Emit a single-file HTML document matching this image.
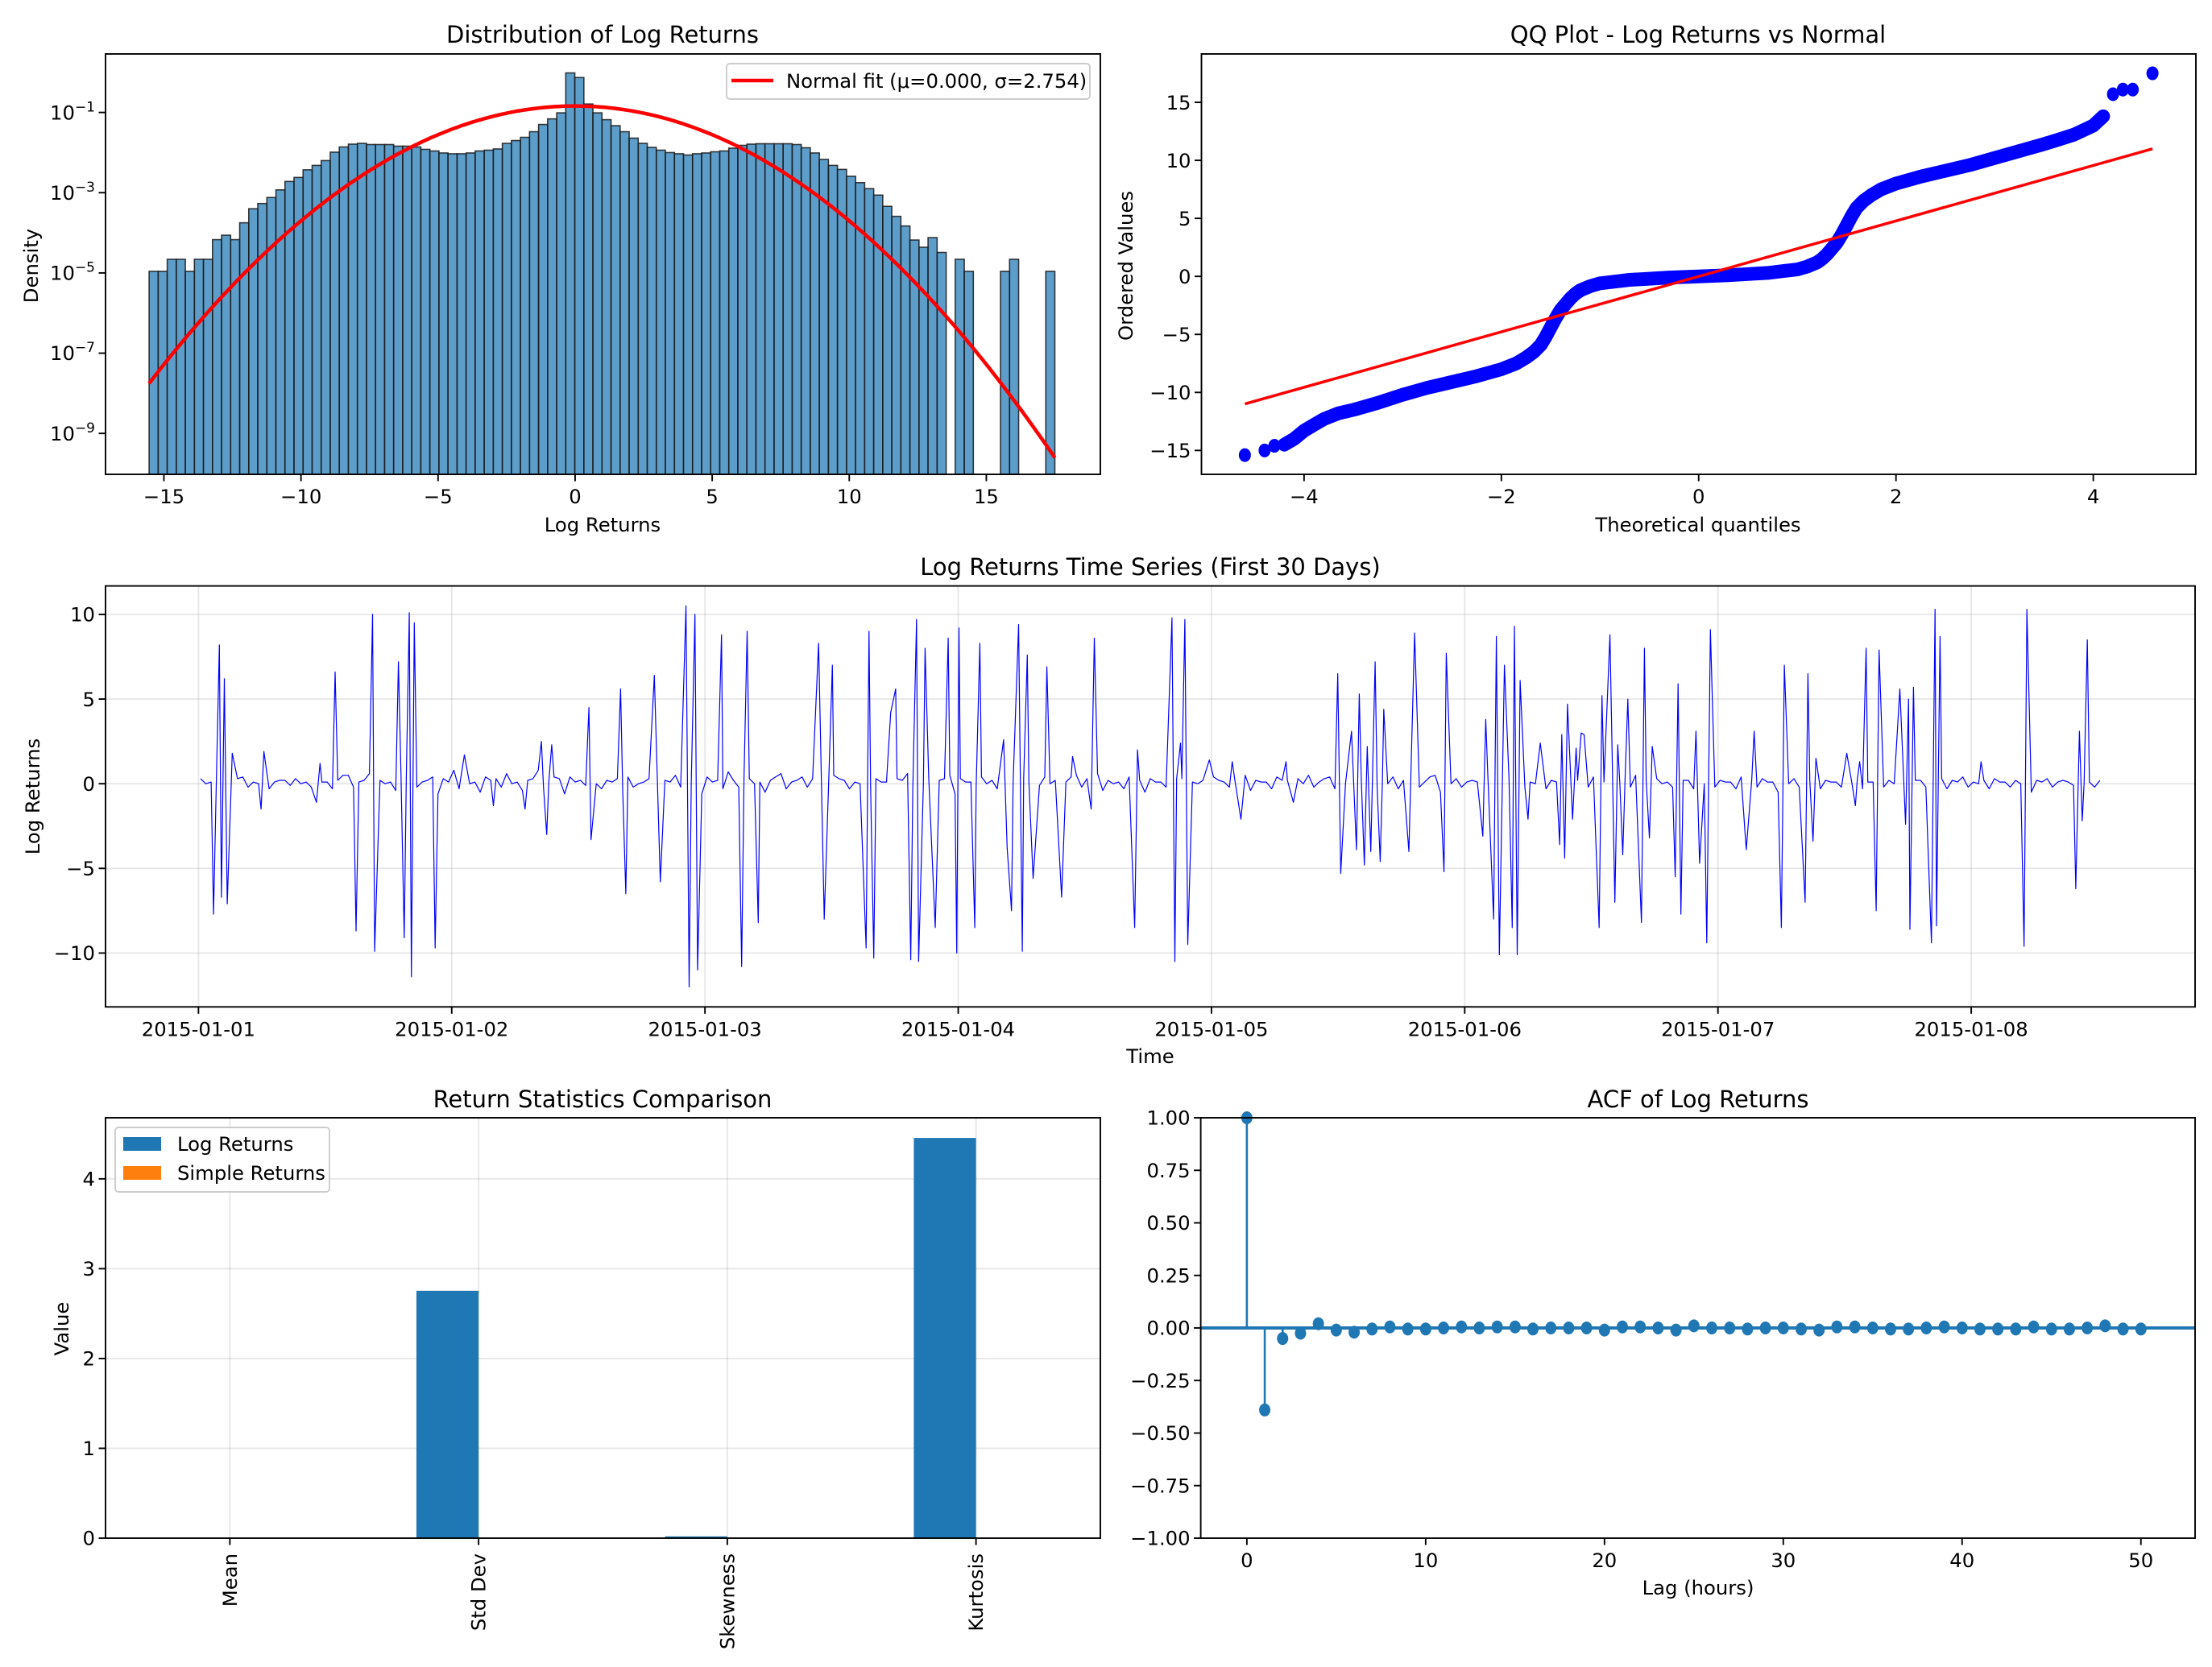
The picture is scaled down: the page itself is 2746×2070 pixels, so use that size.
<!DOCTYPE html>
<html><head><meta charset="utf-8"><title>Log Returns Analysis</title>
<style>
html,body{margin:0;padding:0;background:#fff;}
svg{display:block;font-family:"DejaVu Sans","Liberation Sans",sans-serif;}
</style></head>
<body>
<svg id="fig" width="2746" height="2070" viewBox="0 0 2746 2070" xmlns="http://www.w3.org/2000/svg">
<rect x="0" y="0" width="2746" height="2070" fill="#fff"/>
<g id="p1"></g>
<g id="p2"></g>
<g id="p3"></g>
<g id="p4"></g>
<g id="p5"></g>

<text x="748" y="53" font-size="29" text-anchor="middle">Distribution of Log Returns</text>
<text x="748" y="660" font-size="24.3" text-anchor="middle">Log Returns</text>
<text x="0" y="0" font-size="24.3" text-anchor="middle" transform="translate(47,330) rotate(-90)">Density</text>

<text x="2108" y="53" font-size="29" text-anchor="middle">QQ Plot - Log Returns vs Normal</text>
<text x="2108" y="660" font-size="24.3" text-anchor="middle">Theoretical quantiles</text>
<text x="0" y="0" font-size="24.3" text-anchor="middle" transform="translate(1406,330) rotate(-90)">Ordered Values</text>

<text x="1428" y="714" font-size="29" text-anchor="middle">Log Returns Time Series (First 30 Days)</text>
<text x="1428" y="1320" font-size="24.3" text-anchor="middle">Time</text>
<text x="0" y="0" font-size="24.3" text-anchor="middle" transform="translate(49,989) rotate(-90)">Log Returns</text>

<text x="748" y="1375" font-size="29" text-anchor="middle">Return Statistics Comparison</text>
<text x="0" y="0" font-size="24.3" text-anchor="middle" transform="translate(85,1650) rotate(-90)">Value</text>

<text x="2108" y="1375" font-size="29" text-anchor="middle">ACF of Log Returns</text>
<text x="2108" y="1980" font-size="24.3" text-anchor="middle">Lag (hours)</text>
</svg>
<script>
// ---------- DATA ----------
const histBinStart = -15.54;
const histBinEnd = 17.5;
const histLog10Density = [-4.96,-4.96,-4.66,-4.66,-4.96,-4.66,-4.66,-4.17,-4.06,-4.17,
-3.75,-3.40,-3.27,-3.12,-2.93,-2.72,-2.62,-2.43,-2.32,-2.20,
-1.99,-1.86,-1.79,-1.77,-1.80,-1.80,-1.80,-1.84,-1.84,-1.86,
-1.92,-1.96,-2.01,-2.03,-2.03,-2.01,-1.96,-1.94,-1.91,-1.77,
-1.70,-1.62,-1.48,-1.30,-1.16,-1.01,-0.015,-0.13,-0.79,-1.01,
-1.18,-1.33,-1.48,-1.64,-1.77,-1.87,-1.94,-2.00,-2.03,-2.06,
-2.03,-2.01,-1.98,-1.96,-1.89,-1.82,-1.79,-1.78,-1.78,-1.78,
-1.78,-1.80,-1.88,-2.01,-2.17,-2.32,-2.42,-2.59,-2.75,-2.90,
-3.06,-3.34,-3.59,-3.83,-4.18,-4.36,-4.12,-4.49,null,-4.66,
-4.96,null,null,null,-4.96,-4.66,null,null,null,-4.96];
const fitMu = 0.000;
const fitSigma = 2.754;
const histXTicks = [-15,-10,-5,0,5,10,15];
const histYTickExp = [-1,-3,-5,-7,-9];

const qqTheoretical = [-4.6,-4.4,-4.3,-4.2,-4.1,-4.0,-3.9,-3.8,-3.65,-3.5,-3.25,-3.0,-2.75,-2.5,-2.25,-2.0,-1.85,-1.75,-1.67,-1.6,-1.55,-1.5,-1.45,-1.4,-1.35,-1.3,-1.25,-1.2,-1.1,-1.0,-0.85,-0.7,-0.5,-0.3,0,0.3,0.5,0.7,0.85,1.0,1.1,1.2,1.25,1.3,1.35,1.4,1.45,1.5,1.55,1.6,1.67,1.75,1.85,2.0,2.25,2.5,2.75,3.0,3.25,3.5,3.65,3.8,3.9,4.0,4.1,4.2,4.3,4.4,4.6];
const qqOrdered = [-15.4,-15.0,-14.6,-14.5,-14.0,-13.3,-12.8,-12.3,-11.8,-11.5,-10.9,-10.2,-9.6,-9.1,-8.6,-8.0,-7.5,-7.0,-6.5,-5.9,-5.2,-4.4,-3.6,-2.9,-2.4,-1.9,-1.5,-1.2,-0.85,-0.6,-0.45,-0.3,-0.2,-0.1,0,0.1,0.2,0.3,0.45,0.6,0.85,1.2,1.5,1.9,2.4,2.9,3.6,4.4,5.2,5.9,6.5,7.0,7.5,8.0,8.6,9.1,9.6,10.2,10.8,11.4,11.8,12.2,12.6,13.0,13.8,15.7,16.1,16.1,17.5];
const qqOutlierIdx = [0,1,2,3,65,66,67,68];
const qqFitSlope = 2.39;
const qqFitIntercept = 0.0;
const qqXTicks = [-4,-2,0,2,4];
const qqYTicks = [-15,-10,-5,0,5,10,15];

const spikeHours = [1.43,1.98,2.18,2.45,2.73,3.2,5.93,6.2,11.18,11.52,12.95,14.93,16.5,16.7,18.95,19.5,19.98,20.18,20.45,22.43,25.2,27.95,30.95,32.5,33.0,33.48,37.0,37.2,40.0,40.5,43.2,43.77,46.2,46.5,47.05,47.3,49.57,51.48,52.0,53.05,58.77,59.3,60.07,63.27,63.55,64.0,65.6,66.07,67.5,68.05,68.25,68.86,69.82,71.05,71.86,72.07,73.57,74.05,76.3,76.64,77.05,77.72,78.07,78.55,79.1,80.4,81.8,82.84,84.6,84.9,
88.72,88.99,92.26,92.53,93.07,93.48,93.75,95.8,97.97,98.79,103.07,103.76,107.97,108.25,109.27,109.74,110.01,110.49,110.76,111.1,111.51,111.99,112.33,114.71,115.25,118.04,118.25,121.72,121.99,122.74,123.0,123.28,123.76,124.5,124.71,124.98,125.25,126.0,127.16,129.0,129.2,129.47,129.74,130.22,130.56,131.04,131.31,132.74,133.01,133.76,134.23,134.5,134.98,135.46,136.75,137.03,137.5,137.77,139.95,140.22,140.49,141.92,142.26,142.94,143.28,146.68,147.43,150.01,150.29,152.26,152.53,153.01,153.28,156.21,157.02,157.43,158.04,158.99,159.27,161.24,161.78,162.06,162.19,162.53,164.23,164.57,164.71,165.05,168.93,173.01,173.28,177.91,178.25,178.52,179.0];
const spikeValues = [-7.7,8.2,-6.7,6.2,-7.1,1.8,-1.5,1.9,-1.1,1.2,6.6,-8.7,10.0,-9.9,7.2,-9.1,10.1,-11.4,9.5,-9.7,1.7,-1.3,-1.5,2.5,-3.0,2.3,4.5,-3.3,5.6,-6.5,6.4,-5.8,10.5,-12.0,10.0,-11.0,8.8,-10.8,9.0,-8.2,8.3,-8.0,7.0,-9.7,9.0,-10.3,4.2,5.6,-10.4,9.7,-10.5,8.0,-8.5,8.6,-10.0,9.2,-8.5,8.3,2.6,-3.8,-7.5,9.4,-9.9,7.6,-5.6,6.9,-6.7,1.6,-1.5,8.6,
-8.5,2.0,9.8,-10.5,2.4,9.7,-9.5,1.4,1.3,-2.1,1.3,-1.1,6.5,-5.3,3.1,-3.9,5.3,-4.8,2.2,-4.0,7.2,-4.6,4.4,-4.0,8.9,-5.2,7.7,-3.1,3.8,-8.0,8.7,-10.1,7.0,-8.5,9.3,-10.1,6.1,-2.1,2.4,-3.6,2.9,-4.4,4.7,-2.1,2.1,3.0,2.9,-8.5,5.2,8.8,-7.0,2.3,-4.2,5.0,-8.2,8.0,-3.2,2.2,-5.5,5.9,-7.7,3.1,-4.7,-9.4,9.1,-3.9,3.1,-8.5,7.0,-7.0,6.5,-3.4,1.5,1.8,-1.3,1.3,8.0,-7.5,7.9,5.6,-2.4,5.0,-8.6,5.7,-9.4,10.3,-8.4,8.7,1.3,-9.6,10.3,-6.2,3.1,-2.2,8.5];
const baseStartHour = 0.2;
const baseStepHours = 0.5;
const baseValues = [0.3,0.0,0.1,0.2,0.5,-0.2,0.1,0.3,0.4,-0.2,0.1,0.0,0.3,-0.3,0.1,0.2,0.2,-0.1,0.3,0.0,0.1,-0.2,0.4,0.1,
0.1,-0.3,0.2,0.5,0.5,-0.2,0.1,0.2,0.6,-0.3,0.2,0.0,0.1,-0.4,0.3,0.4,0.7,-0.2,0.1,0.2,0.4,-0.6,0.3,0.1,
0.8,-0.3,0.2,0.0,0.1,-0.5,0.4,0.2,0.3,-0.2,0.6,0.0,0.1,-0.4,0.2,0.3,0.8,-0.2,0.1,0.4,0.3,-0.6,0.4,0.1,
0.2,-0.1,0.5,0.0,-0.3,0.2,0.1,0.3,-0.3,0.4,-0.2,0.0,0.1,0.3,0.3,-0.4,0.2,0.1,0.5,-0.2,0.3,0.0,0.1,-0.6,
0.4,0.1,0.2,-0.3,0.7,0.2,-0.2,0.3,0.3,0.0,0.1,-0.5,0.2,0.4,0.6,-0.3,0.1,0.2,0.4,-0.2,0.3,0.0,0.1,-0.4,
0.5,0.3,0.2,-0.3,0.1,0.0,0.4,-0.2,0.3,0.1,0.1,-0.5,0.3,0.2,0.6,-0.2,0.1,0.0,0.4,-0.3,0.2,0.3,0.5,-0.6,
0.3,0.1,0.1,-0.2,0.4,0.0,0.2,-0.3,0.5,0.2,0.1,-0.4,0.3,0.1,0.2,-0.1,0.4,0.0,0.2,-0.3,0.1,0.4,0.5,-0.2,
0.3,0.1,0.6,-0.4,0.2,0.0,0.1,-0.3,0.4,0.2,0.2,-0.5,0.3,0.1,0.1,-0.2,0.6,0.3,0.3,-0.4,0.1,0.0,0.2,-0.3,
0.4,0.2,0.1,-0.2,0.3,0.0,0.5,-0.4,0.2,0.1,0.1,-0.3,0.4,0.2,0.2,-0.1,0.3,0.0,0.5,-0.2,0.1,0.3,0.4,-0.3,
0.2,0.0,0.1,-0.4,0.3,0.2,0.2,-0.2,0.1,0.0,0.4,-0.3,0.2,0.1,0.3,-0.2,0.1,0.4,0.5,-0.5,0.2,0.0,0.3,-0.2,
0.1,0.2,0.1,-0.1,0.4,0.0,0.2,-0.3,0.3,0.1,0.5,-0.2,0.1,0.0,0.4,-0.3,0.2,0.1,0.1,-0.4,0.3,0.2,0.2,-0.2,
0.4,0.1,0.1,-0.3,0.2,0.0,0.3,-0.2,0.5,0.1,0.2,-0.4,0.3,0.0,0.1,-0.2,0.4,0.2,0.2,-0.3,0.1,0.0,0.3,-0.2,
0.2,0.1,0.1,-0.3,0.4,0.0,0.2,-0.2,0.3,0.1,0.1,-0.5,0.2,0.0,0.3,-0.2,0.1,0.2,0.4,-0.3,0.2,0.1,0.1,-0.2,
0.3,0.0,0.2,-0.3,0.1,0.1,0.4,-0.2,0.2,0.0,0.1,-0.4,0.3,0.2,0.2,-0.2,0.1,0.0,0.3,-0.3,0.2,0.1,0.4,-0.2,
0.1,0.0,0.2,-0.3,0.3,0.1,0.1,-0.2,0.2,0.0,0.4,-0.5,0.2,0.1,0.3,-0.2,0.1,0.2,0.1,-0.1,0.2,0.0,0.1,-0.2,
0.2];
const tsDayLabels = ["2015-01-01","2015-01-02","2015-01-03","2015-01-04","2015-01-05","2015-01-06","2015-01-07","2015-01-08"];
const tsYTicks = [-10,-5,0,5,10];

const statCategories = ["Mean","Std Dev","Skewness","Kurtosis"];
const statLogReturns = [0.0,2.754,0.02,4.455];
const statSimpleReturns = [0.0,0.0,0.0,0.0];
const statYTicks = [0,1,2,3,4];

const acfValues = [1.0,-0.39,-0.05,-0.025,0.02,-0.01,-0.02,-0.005,0.005,-0.005,-0.005,0.0,0.005,0.0,0.005,0.005,-0.005,0.0,0.0,0.0,-0.01,0.005,0.005,0.0,-0.01,0.01,0.0,0.0,-0.005,0.0,0.0,-0.005,-0.01,0.005,0.005,0.0,-0.005,-0.005,0.0,0.005,0.0,-0.005,-0.005,-0.005,0.005,-0.005,-0.005,0.0,0.01,-0.005,-0.005];
const acfXTicks = [0,10,20,30,40,50];
const acfYTicks = [1.0,0.75,0.5,0.25,0.0,-0.25,-0.5,-0.75,-1.0];

// ---------- RENDER ----------
const NS = "http://www.w3.org/2000/svg";
function mk(tag, attrs, parent){const e=document.createElementNS(NS,tag);for(const k in attrs)e.setAttribute(k,attrs[k]);parent.appendChild(e);return e;}
function lin(d0,d1,r0,r1){return v=>r0+(v-d0)*(r1-r0)/(d1-d0);}
const FS=24.3, TICK=8.5, LW=1.9, GRID="#b0b0b0";

function frame(g,x0,y0,x1,y1){
  const r=mk('rect',{x:x0,y:y0,width:x1-x0,height:y1-y0,fill:'none',stroke:'#000','stroke-width':LW},g);
  
  
}
function xtick(g,x,y1,label,grid,y0){
  if(grid){const gl=mk('line',{x1:x,x2:x,y1:y0,y2:y1,stroke:GRID,'stroke-opacity':0.3,'stroke-width':LW},g);
    
    }
  const t=mk('line',{x1:x,x2:x,y1:y1,y2:y1+TICK,stroke:'#000','stroke-width':LW},g);
  
  
  if(label!==null){const tx=mk('text',{x:x,y:y1+36,'font-size':FS,'text-anchor':'middle'},g);tx.textContent=label;
    
    }
}
function ytick(g,x0,y,label,grid,x1){
  if(grid){const gl=mk('line',{x1:x0,x2:x1,y1:y,y2:y,stroke:GRID,'stroke-opacity':0.3,'stroke-width':LW},g);
    
    }
  const t=mk('line',{x1:x0-TICK,x2:x0,y1:y,y2:y,stroke:'#000','stroke-width':LW},g);
  
  
  const tx=mk('text',{x:x0-13,y:y+8.7,'font-size':FS,'text-anchor':'end'},g);tx.textContent=label;
  
  
}
function fmtNum(v){return (v<0?'\u2212':'')+Math.abs(v);}

// ===== Panel 1 =====
(function(){
  const g=document.getElementById('p1');
  const X0=131,X1=1366,Y0=67,Y1=589;
  const sx=lin(-17.13,19.16,X0,X1);
  const sy=lin(0.458,-10.02,Y0,Y1);
  const w=(histBinEnd-histBinStart)/histLog10Density.length;
  histLog10Density.forEach((lv,i)=>{
    if(lv===null)return;
    const a=histBinStart+i*w;
    const b=mk('rect',{x:sx(a),y:sy(lv),width:sx(a+w)-sx(a),height:Y1-sy(lv),fill:'#1f77b4','fill-opacity':0.72,stroke:'#1a1a1a','stroke-opacity':0.85,'stroke-width':1.6},g);
    
    
  });
  let pts=[];
  for(let k=0;k<=300;k++){const x=histBinStart+(histBinEnd-histBinStart)*k/300;
    const pdf=Math.exp(-0.5*Math.pow((x-fitMu)/fitSigma,2))/(fitSigma*Math.sqrt(2*Math.PI));
    pts.push(sx(x).toFixed(1)+','+sy(Math.log10(pdf)).toFixed(1));}
  const pl=mk('polyline',{points:pts.join(' '),fill:'none',stroke:'#ff0000','stroke-width':4.5},g);
  
  
  frame(g,X0,Y0,X1,Y1);
  histXTicks.forEach(v=>xtick(g,sx(v),Y1,fmtNum(v),false));
  histYTickExp.forEach(e=>{
    const y=sy(e);
    const t=mk('line',{x1:X0-TICK,x2:X0,y1:y,y2:y,stroke:'#000','stroke-width':LW},g);
    
    
    const tx=mk('text',{x:X0-13,y:y+8.7,'font-size':FS,'text-anchor':'end'},g);
    
    
    const s1=mk('tspan',{},tx);s1.textContent='10';
    const s2=mk('tspan',{'font-size':17,dy:-10},tx);s2.textContent='\u2212'+Math.abs(e);
  });
  const lg=mk('g',{},g);
  
  
  mk('rect',{x:902,y:79,width:451,height:44,rx:4,fill:'#fff','fill-opacity':0.8,stroke:'#cccccc','stroke-width':1.9},lg);
  const ll=mk('line',{x1:908,x2:960,y1:100,y2:100,stroke:'#ff0000','stroke-width':4.5},lg);
  
  
  const lt=mk('text',{x:976,y:109,'font-size':FS},lg);lt.textContent='Normal fit (\u03bc=0.000, \u03c3=2.754)';
  
  
})();

// ===== Panel 2 =====
(function(){
  const g=document.getElementById('p2');
  const X0=1491.5,X1=2726,Y0=67,Y1=589;
  const sx=lin(-5.04,5.04,X0,X1);
  const sy=lin(19.17,-17.06,Y0,Y1);
  const n=qqTheoretical.length;
  const pts=qqTheoretical.map((q,i)=>sx(q).toFixed(1)+','+sy(qqOrdered[i]).toFixed(1)).slice(3,n-4);
  const band=mk('polyline',{points:pts.join(' '),fill:'none',stroke:'#0000ff','stroke-width':17,'stroke-linejoin':'round','stroke-linecap':'round'},g);
  
  
  qqOutlierIdx.forEach(i=>{
    const c=mk('ellipse',{cx:sx(qqTheoretical[i]),cy:sy(qqOrdered[i]),rx:7.5,ry:8.5,fill:'#0000ff'},g);
    
    
  });
  const qa=qqTheoretical[0],qb=qqTheoretical[n-1];
  const fl=mk('line',{x1:sx(qa),y1:sy(qqFitIntercept+qqFitSlope*qa),x2:sx(qb),y2:sy(qqFitIntercept+qqFitSlope*qb),stroke:'#ff0000','stroke-width':3.5},g);
  
  
  frame(g,X0,Y0,X1,Y1);
  qqXTicks.forEach(v=>xtick(g,sx(v),Y1,fmtNum(v),false));
  qqYTicks.forEach(v=>ytick(g,X0,sy(v),fmtNum(v),false));
})();

// ===== Panel 3 =====
(function(){
  const g=document.getElementById('p3');
  const X0=131,X1=2725,Y0=727.6,Y1=1250.3;
  const sx=lin(-0.367*24,7.884*24,X0,X1);
  const sy=lin(11.68,-13.18,Y0,Y1);
  tsDayLabels.forEach((lab,i)=>xtick(g,sx(i*24),Y1,lab,true,Y0));
  tsYTicks.forEach(v=>ytick(g,X0,sy(v),fmtNum(v),true,X1));
  let all=spikeHours.map((h,i)=>[h,spikeValues[i]]);
  baseValues.forEach((v,i)=>{const h=baseStartHour+i*baseStepHours;
    if(!spikeHours.some(s=>Math.abs(s-h)<0.12))all.push([h,v]);});
  all.sort((a,b)=>a[0]-b[0]);
  const pl=mk('polyline',{points:all.map(p=>sx(p[0]).toFixed(1)+','+sy(p[1]).toFixed(1)).join(' '),fill:'none',stroke:'#0000ff','stroke-width':1.2,'stroke-linejoin':'round'},g);
  
  
  frame(g,X0,Y0,X1,Y1);
})();

// ===== Panel 4 =====
(function(){
  const g=document.getElementById('p4');
  const X0=131,X1=1366,Y0=1388,Y1=1910;
  const sx=lin(-0.5,3.5,X0,X1);
  const sy=lin(4.68,0,Y0,Y1);
  statYTicks.forEach(v=>ytick(g,X0,sy(v),String(v),true,X1));
  statCategories.forEach((c,i)=>{
    const gl=mk('line',{x1:sx(i),x2:sx(i),y1:Y0,y2:Y1,stroke:GRID,'stroke-opacity':0.3,'stroke-width':LW},g);
    
    
    const b1=mk('rect',{x:sx(i-0.25),y:sy(Math.max(statLogReturns[i],0)),width:sx(i)-sx(i-0.25),height:Math.abs(sy(0)-sy(statLogReturns[i])),fill:'#1f77b4'},g);
    
    
    const b2=mk('rect',{x:sx(i),y:sy(Math.max(statSimpleReturns[i],0)),width:sx(i+0.25)-sx(i),height:Math.abs(sy(0)-sy(statSimpleReturns[i])),fill:'#ff7f0e'},g);
    
    
    const t=mk('line',{x1:sx(i),x2:sx(i),y1:Y1,y2:Y1+TICK,stroke:'#000','stroke-width':LW},g);
    
    
    const tx=mk('text',{x:0,y:0,'font-size':FS,'text-anchor':'end',transform:'translate('+(sx(i)+8.5)+','+(Y1+19)+') rotate(-90)'},g);
    tx.textContent=c;
    
    
  });
  frame(g,X0,Y0,X1,Y1);
  const lg=mk('g',{},g);
  
  
  mk('rect',{x:143,y:1400,width:266,height:80,rx:4,fill:'#fff','fill-opacity':0.8,stroke:'#cccccc','stroke-width':1.9},lg);
  const p1=mk('rect',{x:153,y:1412,width:47,height:17,fill:'#1f77b4'},lg);
  
  
  const t1=mk('text',{x:220,y:1429,'font-size':FS},lg);t1.textContent='Log Returns';
  
  
  const p2=mk('rect',{x:153,y:1448,width:47,height:17,fill:'#ff7f0e'},lg);
  
  
  const t2=mk('text',{x:220,y:1465,'font-size':FS},lg);t2.textContent='Simple Returns';
  
  
})();

// ===== Panel 5 =====
(function(){
  const g=document.getElementById('p5');
  const X0=1490.6,X1=2725,Y0=1388,Y1=1910;
  const sx=lin(-2.58,53.03,X0,X1);
  const sy=lin(1,-1,Y0,Y1);
  const base=mk('line',{x1:X0,x2:X1,y1:sy(0),y2:sy(0),stroke:'#1f77b4','stroke-width':4},g);
  
  
  acfValues.forEach((v,i)=>{
    const s=mk('line',{x1:sx(i),x2:sx(i),y1:sy(0),y2:sy(v),stroke:'#1f77b4','stroke-width':2.6},g);
    
    
    const c=mk('ellipse',{cx:sx(i),cy:sy(v),rx:7,ry:8,fill:'#1f77b4'},g);
    
    
  });
  frame(g,X0,Y0,X1,Y1);
  acfXTicks.forEach(v=>xtick(g,sx(v),Y1,String(v),false));
  acfYTicks.forEach(v=>ytick(g,X0,sy(v),(v<0?'\u2212':'')+Math.abs(v).toFixed(2),false));
})();
</script>
</body></html>
